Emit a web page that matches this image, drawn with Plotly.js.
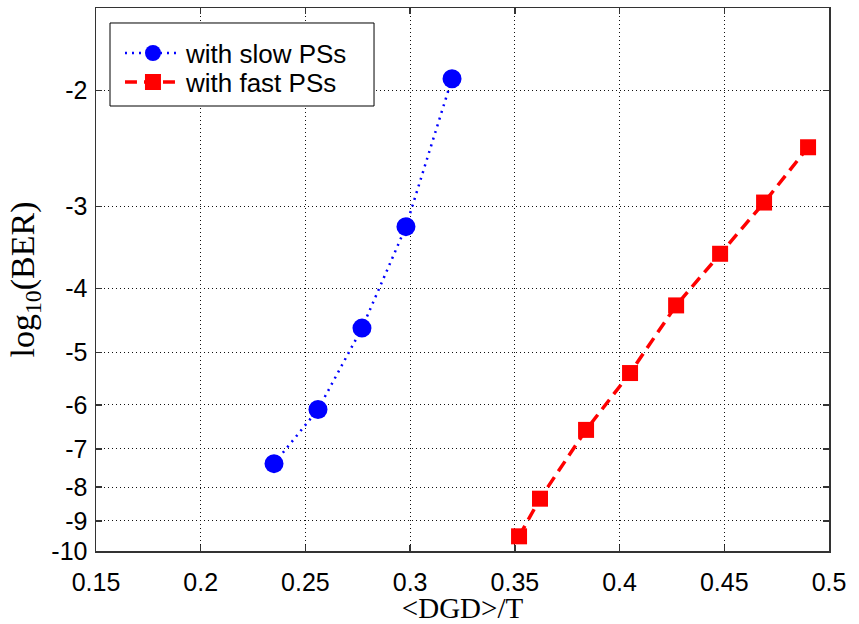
<!DOCTYPE html>
<html>
<head>
<meta charset="utf-8">
<script src="https://cdn.plot.ly/plotly-3.0.1.min.js"></script>
<style>html,body{margin:0;padding:0;background:#fff;}#chart{width:859px;height:624px;}</style>
</head>
<body>
<div id="chart"></div>
<script>
// Data (log10(BER) values)
const slowX = [0.235, 0.256, 0.277, 0.298, 0.320];
const slowLogBER = [-7.37, -6.10, -4.59, -3.22, -1.92];
const fastX = [0.352, 0.362, 0.384, 0.405, 0.427, 0.448, 0.469, 0.490];
const fastLogBER = [-9.50, -8.33, -6.55, -5.37, -4.24, -3.54, -2.96, -2.44];
const xTickVals = [0.15, 0.2, 0.25, 0.3, 0.35, 0.4, 0.45, 0.5];
const xTickText = ['0.15', '0.2', '0.25', '0.3', '0.35', '0.4', '0.45', '0.5'];
const yTickLogBER = [-2, -3, -4, -5, -6, -7, -8, -9, -10];

// axis plotted as log10(-log10 BER), reversed so -2 is at top
const neg = a => a.map(v => -v);

const traces = [
  {
    x: slowX, y: neg(slowLogBER), name: 'with slow PSs', legend: 'legend',
    mode: 'lines+markers', type: 'scatter',
    line: {color: '#0000ff', width: 2.5, dash: '2px,5px'},
    marker: {color: '#0000ff', size: 19, symbol: 'circle'}
  },
  {
    x: fastX, y: neg(fastLogBER), name: 'with fast PSs', legend: 'legend2',
    mode: 'lines+markers', type: 'scatter',
    line: {color: '#ff0000', width: 3.5, dash: '12px,7px'},
    marker: {color: '#ff0000', size: 16, symbol: 'square'}
  }
];

const tickFont = {family: 'Liberation Sans, Arial, sans-serif', size: 25, color: '#000'};
const legFont = {family: 'Liberation Sans, Arial, sans-serif', size: 26, color: '#000'};
const legCommon = {
  xanchor: 'left', yanchor: 'middle',
  bgcolor: 'rgba(0,0,0,0)', borderwidth: 0,
  font: legFont, itemwidth: 56
};
const layout = {
  width: 859, height: 624,
  margin: {l: 96, r: 30, t: 8, b: 73},
  paper_bgcolor: '#fff', plot_bgcolor: '#fff',
  showlegend: true,
  legend: Object.assign({x: 0.0327, y: 0.917}, legCommon),
  legend2: Object.assign({x: 0.0327, y: 0.8637}, legCommon),
  shapes: [{
    type: 'rect', xref: 'paper', yref: 'paper',
    x0: 0.0191, x1: 0.3793, y0: 0.8195, y1: 0.9724,
    fillcolor: '#fff', line: {color: '#000', width: 1}, layer: 'above'
  }],
  xaxis: {
    range: [0.15, 0.5],
    tickvals: xTickVals, ticktext: xTickText,
    tickfont: tickFont,
    ticks: 'inside', ticklen: 6, tickcolor: '#333', tickwidth: 1.5,
    showline: true, linecolor: '#333', linewidth: 1.5, mirror: 'allticks',
    showgrid: true, gridcolor: '#111', griddash: '1px,3px', gridwidth: 1,
    zeroline: false,
    ticklabelstandoff: 8,
    title: {text: '&lt;DGD&gt;/T', font: {family: 'Liberation Serif, Times New Roman, serif', size: 29, color: '#000'}, standoff: 4}
  },
  yaxis: {
    type: 'log',
    range: [1, Math.log10(1.5)],
    tickvals: neg(yTickLogBER), ticktext: yTickLogBER.map(String),
    tickfont: tickFont,
    ticks: 'inside', ticklen: 6, tickcolor: '#333', tickwidth: 1.5,
    showline: true, linecolor: '#333', linewidth: 1.5, mirror: 'allticks',
    showgrid: true, gridcolor: '#111', griddash: '1px,3px', gridwidth: 1,
    zeroline: false,
    ticklabelstandoff: 2,
    title: {text: 'log<sub>10</sub>(BER)', font: {family: 'Liberation Serif, Times New Roman, serif', size: 34, color: '#000'}, standoff: 6}
  }
};

Plotly.newPlot('chart', traces, layout, {displayModeBar: false, staticPlot: true});
</script>
</body>
</html>
